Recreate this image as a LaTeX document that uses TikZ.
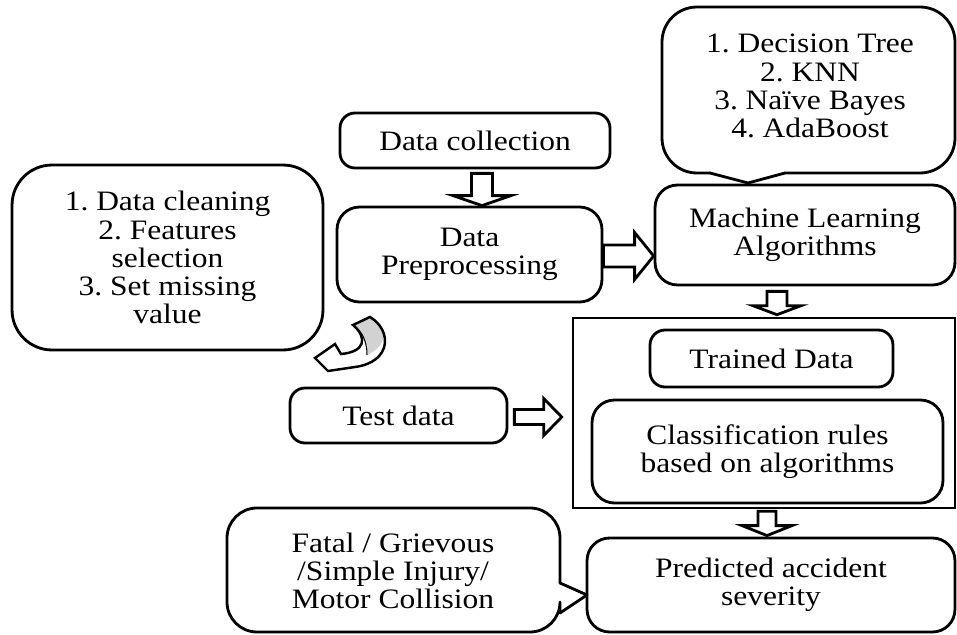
\documentclass[tikz,border=0pt]{standalone}
\usepackage{fontspec}
\setmainfont{Liberation Serif}[FakeStretch=1.12]
\usetikzlibrary{calc}
\frenchspacing

\tikzstyle{stepbox} = [rectangle, draw=black, line width=1.6pt, align=center, inner sep=0pt, font=\fontsize{16}{16}\selectfont]
\tikzstyle{frame} = [rectangle, draw=black, line width=1.5pt, inner sep=0pt]
\tikzstyle{bubble} = [draw=black, line width=1.6pt, line cap=round, line join=round]
\tikzstyle{bubbletext} = [align=center, inner sep=0pt, font=\fontsize{16}{16}\selectfont]
\tikzstyle{blockarrow} = [draw=black, line width=1.6pt, fill=white, line join=miter]

% hollow block arrow: start, end, shaft half width, head half width, head length
\newcommand{\blockarr}[5]{%
  \coordinate (ba-s) at #1;
  \coordinate (ba-e) at #2;
  \coordinate (ba-h) at ($(ba-e)!#5!(ba-s)$);
  \draw[blockarrow] ($(ba-s)!#3!90:(ba-e)$) -- ($(ba-h)!#3!90:(ba-e)$) -- ($(ba-h)!#4!90:(ba-e)$) -- (ba-e)
    -- ($(ba-h)!#4!-90:(ba-e)$) -- ($(ba-h)!#3!-90:(ba-e)$) -- ($(ba-s)!#3!-90:(ba-e)$) -- cycle;
}

\begin{document}
\begin{tikzpicture}[x=0.02cm, y=-0.02cm]
  \useasboundingbox (0,0) rectangle (957,635);

  % Main boxes
  \node (collect) [stepbox, rounded corners=0.3cm, minimum width=5.4cm, minimum height=1.1cm] at (475,140.5) {Data collection};
  \node (prep) [stepbox, rounded corners=0.45cm, minimum width=5.3cm, minimum height=1.9cm] at (469.5,254.5) {Data\\Preprocessing};
  \node (ml) [stepbox, rounded corners=0.45cm, minimum width=6cm, minimum height=2cm] at (805,235) {Machine Learning\\Algorithms};
  \node (test) [stepbox, rounded corners=0.3cm, minimum width=4.34cm, minimum height=1.1cm] at (398.5,415.5) {Test data};

  % Frame with trained data and rules
  \node (frame) [frame, minimum width=7.64cm, minimum height=3.8cm] at (764,413) {};
  \node (trained) [stepbox, rounded corners=0.3cm, minimum width=4.86cm, minimum height=1.14cm] at (771.5,358.5) {Trained Data};
  \node (classify) [stepbox, rounded corners=0.45cm, minimum width=7.02cm, minimum height=2.06cm] at (767.5,451.5) {Classification rules\\based on algorithms};

  \node (predicted) [stepbox, rounded corners=0.45cm, minimum width=7.36cm, minimum height=1.88cm] at (771,585) {Predicted accident\\severity};

  % Preprocessing steps
  \node (cleaning) [stepbox, rounded corners=0.8cm, minimum width=6.22cm, minimum height=3.7cm] at (167.5,257.5) {1. Data cleaning\\2. Features\\selection\\3. Set missing\\value};

  % Callout with algorithms
  \node (algos) [bubbletext] at (810,86) {1. Decision Tree\\2. KNN\\3. Na\"ive Bayes\\4. AdaBoost};
  \draw[bubble, rounded corners=0.7cm] (710,173) -- (662,173) -- (662,7) -- (955,7) -- (955,173) -- (785,173);
  \draw[bubble] (785,173) -- (748,183) -- (710,173);

  % Callout with severity classes
  \node (classes) [bubbletext] at (393,571) {Fatal / Grievous\\/Simple Injury/\\Motor Collision};
  \draw[bubble, rounded corners=0.6cm] (560,583) -- (560,508) -- (227,508) -- (227,632) -- (560,632) -- (560,613);
  \draw[bubble] (560,613) -- (587,595) -- (560,583);

  % Curved arrow to preprocessing steps
  \fill[gray!35] (353,325) -- (370,317) .. controls (388,327) and (389,345) .. (367,355) .. controls (367,341) and (362,331) .. cycle;
  \draw[line width=0.6pt] (353,325) .. controls (362,331) and (367,341) .. (367,355);
  \draw[bubble, line width=1.4pt, line join=miter] (353,325) -- (370,317) .. controls (392,330) and (392,362) .. (355,367) -- (328,371) -- (315,358) -- (335,344) -- (341,354) .. controls (365,352) and (368,338) .. cycle;

  % Block arrows
  \blockarr{($(prep.north |- collect.south)+(12.5,4)$)}{($(prep.north)+(12.5,0)$)}{0.21cm}{0.58cm}{0.2cm}
  \blockarr{($(prep.east)+(0,1.5)$)}{($(ml.west |- prep.east)+(0,1.5)$)}{0.22cm}{0.47cm}{0.38cm}
  \blockarr{($(ml.south)+(-28,5)$)}{($(ml.south |- frame.north)+(-28,-2)$)}{0.2cm}{0.48cm}{0.18cm}
  \blockarr{($(test.east)+(6,1.5)$)}{($(frame.west |- test.east)+(-10,1.5)$)}{0.15cm}{0.37cm}{0.36cm}
  \blockarr{($(frame.south)+(3,2)$)}{($(frame.south |- predicted.north)+(3,-1)$)}{0.18cm}{0.5cm}{0.2cm}

\end{tikzpicture}
\end{document}
